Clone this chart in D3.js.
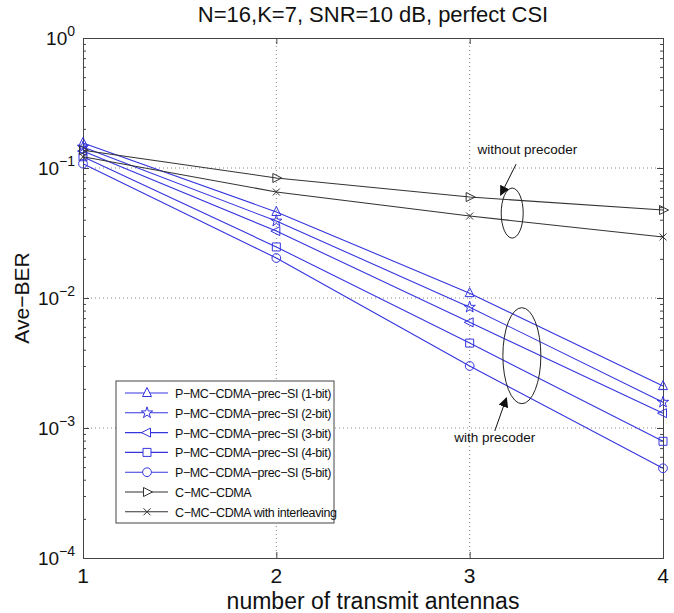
<!DOCTYPE html>
<html>
<head>
<meta charset="utf-8">
<script src="https://cdn.jsdelivr.net/npm/d3@7"></script>
<style>
  body { margin: 0; background: white; }
  text { font-family: "Liberation Sans", Arial, Helvetica, sans-serif; }
</style>
</head>
<body>
<div id="chart"></div>
<script>

// number of transmit antennas
var antennas = [1, 2, 3, 4];

// Ave-BER values
var ber_1bit = [0.156, 0.0459, 0.0109, 0.0021];
var ber_2bit = [0.145, 0.0391, 0.0085, 0.00158];
var ber_3bit = [0.135, 0.0327, 0.0065, 0.0013];
var ber_4bit = [0.122, 0.0247, 0.0045, 0.00079];
var ber_5bit = [0.108, 0.0203, 0.0030, 0.00049];
var ber_cmc = [0.137, 0.0838, 0.0598, 0.0475];
var ber_cmc_il = [0.122, 0.0654, 0.0427, 0.0295];

var series_names = [
  'P\u2212MC\u2212CDMA\u2212prec\u2212SI (1-bit)',
  'P\u2212MC\u2212CDMA\u2212prec\u2212SI (2-bit)',
  'P\u2212MC\u2212CDMA\u2212prec\u2212SI (3-bit)',
  'P\u2212MC\u2212CDMA\u2212prec\u2212SI (4-bit)',
  'P\u2212MC\u2212CDMA\u2212prec\u2212SI (5-bit)',
  'C\u2212MC\u2212CDMA',
  'C\u2212MC\u2212CDMA with interleaving'
];
var series_markers = ['triup', 'star', 'trileft', 'square', 'circle', 'triright', 'x'];
var y_tick_exps = [0, -1, -2, -3, -4];

var series = [ber_1bit, ber_2bit, ber_3bit, ber_4bit, ber_5bit, ber_cmc, ber_cmc_il].map(function(vals, i){
  return {name: series_names[i], marker: series_markers[i], values: vals,
          color: i < 5 ? '#3535e0' : '#333'};
});

var width = 674, height = 613;
var margin = {left: 83, right: 11, top: 38, bottom: 55};

var svg = d3.select('#chart')
  .append('svg')
  .attr('width', width)
  .attr('height', height);

var x = d3.scaleLinear().domain([1, 4]).range([margin.left, width - margin.right]);
var y = d3.scaleLog().domain([1e-4, 1]).range([height - margin.bottom, margin.top]);

var axis_color = '#444';

// grid (dotted, major ticks only)
var grid = svg.append('g').attr('class', 'grid');
grid.selectAll('line.gx')
  .data([2, 3])
  .enter()
  .append('line')
  .attr('x1', function(d){ return x(d); })
  .attr('x2', function(d){ return x(d); })
  .attr('y1', y(1))
  .attr('y2', y(1e-4))
  .style('stroke', '#888')
  .style('stroke-dasharray', '1,3');

grid.selectAll('line.gy')
  .data([-1, -2, -3])
  .enter()
  .append('line')
  .attr('x1', x(1))
  .attr('x2', x(4))
  .attr('y1', function(d){ return y(Math.pow(10, d)); })
  .attr('y2', function(d){ return y(Math.pow(10, d)); })
  .style('stroke', '#888')
  .style('stroke-dasharray', '1,3');

// axes - ticks pointing inward, box all round
var x_axis = d3.axisBottom(x).tickValues(antennas).tickSize(-6).tickFormat('');
var x_axis_top = d3.axisTop(x).tickValues(antennas).tickSize(-6).tickFormat('');

var minor_ticks = [];
y_tick_exps.slice(1).forEach(function(e){
  for (var m = 2; m <= 9; m++){ minor_ticks.push(m * Math.pow(10, e)); }
});
var major_ticks = y_tick_exps.map(function(e){ return Math.pow(10, e); });

function draw_axis(g){
  g.select('.domain').style('stroke', axis_color);
  g.selectAll('.tick line').style('stroke', axis_color);
}

svg.append('g')
  .attr('transform', 'translate(0,' + y(1e-4) + ')')
  .call(x_axis).call(draw_axis);
svg.append('g')
  .attr('transform', 'translate(0,' + y(1) + ')')
  .call(x_axis_top).call(draw_axis);

svg.append('g')
  .attr('transform', 'translate(' + x(1) + ',0)')
  .call(d3.axisLeft(y).tickValues(major_ticks).tickSize(-6).tickFormat('')).call(draw_axis);
svg.append('g')
  .attr('transform', 'translate(' + x(1) + ',0)')
  .call(d3.axisLeft(y).tickValues(minor_ticks).tickSize(-3).tickFormat('')).call(draw_axis);
svg.append('g')
  .attr('transform', 'translate(' + x(4) + ',0)')
  .call(d3.axisRight(y).tickValues(major_ticks).tickSize(-6).tickFormat('')).call(draw_axis);
svg.append('g')
  .attr('transform', 'translate(' + x(4) + ',0)')
  .call(d3.axisRight(y).tickValues(minor_ticks).tickSize(-3).tickFormat('')).call(draw_axis);

// tick labels
svg.selectAll('text.xtick')
  .data(antennas)
  .enter()
  .append('text')
  .attr('x', function(d){ return x(d); })
  .attr('y', y(1e-4) + 25)
  .style('font-size', '21px')
  .style('text-anchor', 'middle')
  .style('fill', '#111')
  .text(function(d){ return d; });

var ylab = svg.selectAll('text.ytick')
  .data(y_tick_exps)
  .enter()
  .append('text')
  .attr('x', x(1) - 8)
  .attr('y', function(d){ return y(Math.pow(10, d)) + 7; })
  .style('font-size', '19px')
  .style('text-anchor', 'end')
  .style('fill', '#111');
ylab.append('tspan').text('10');
ylab.append('tspan')
  .attr('dy', -9)
  .style('font-size', '14px')
  .text(function(d){ return d === 0 ? '0' : '\u2212' + (-d); });

// marker shapes
function marker_path(type){
  var s = 4.5;
  if (type === 'triup') return 'M0,' + (-s - 1) + 'L' + s + ',' + (s - 1) + 'L' + (-s) + ',' + (s - 1) + 'Z';
  if (type === 'trileft') return 'M' + (-s - 1) + ',0L' + (s - 1) + ',' + (-s) + 'L' + (s - 1) + ',' + s + 'Z';
  if (type === 'triright') return 'M' + (s + 1) + ',0L' + (1 - s) + ',' + (-s) + 'L' + (1 - s) + ',' + s + 'Z';
  if (type === 'square') return 'M-4,-4L4,-4L4,4L-4,4Z';
  if (type === 'circle') return d3.symbol().type(d3.symbolCircle).size(60)();
  if (type === 'star') return d3.symbol().type(d3.symbolStar).size(40)();
  if (type === 'x') return 'M-3.5,-3.5L3.5,3.5M-3.5,3.5L3.5,-3.5';
}

var line = d3.line()
  .x(function(d, i){ return x(antennas[i]); })
  .y(function(d){ return y(d); });

var plot = svg.append('g').attr('class', 'series');

series.forEach(function(s){
  plot.append('path')
    .datum(s.values)
    .attr('d', line)
    .style('fill', 'none')
    .style('stroke', s.color)
    .style('stroke-width', 1.1);

  plot.selectAll(null)
    .data(s.values)
    .enter()
    .append('path')
    .attr('transform', function(d, i){ return 'translate(' + x(antennas[i]) + ',' + y(d) + ')'; })
    .attr('d', marker_path(s.marker))
    .style('fill', 'none')
    .style('stroke', s.color)
    .style('stroke-width', 1);
});

// annotations: ellipses + arrows
var defs = svg.append('defs');
defs.append('marker')
  .attr('id', 'arrowhead')
  .attr('viewBox', '0 0 10 10')
  .attr('refX', 9)
  .attr('refY', 5)
  .attr('markerWidth', 10)
  .attr('markerHeight', 10)
  .attr('markerUnits', 'userSpaceOnUse')
  .attr('orient', 'auto')
  .append('path')
  .attr('d', 'M0,0L10,5L0,10Z')
  .style('fill', '#111');

svg.append('ellipse')
  .attr('cx', x(3.22)).attr('cy', y(0.045))
  .attr('rx', 11).attr('ry', 25)
  .style('fill', 'none').style('stroke', '#222');

svg.append('ellipse')
  .attr('cx', x(3.27)).attr('cy', y(0.0036))
  .attr('rx', 19).attr('ry', 48)
  .style('fill', 'none').style('stroke', '#222');

svg.append('line')
  .attr('x1', x(3.24)).attr('y1', y(0.107))
  .attr('x2', x(3.16)).attr('y2', y(0.062))
  .style('stroke', '#111')
  .attr('marker-end', 'url(#arrowhead)');

svg.append('line')
  .attr('x1', x(3.13)).attr('y1', y(0.00095))
  .attr('x2', x(3.19)).attr('y2', y(0.0017))
  .style('stroke', '#111')
  .attr('marker-end', 'url(#arrowhead)');

svg.append('text')
  .attr('x', x(3.04)).attr('y', y(0.128))
  .style('font-size', '13.5px')
  .style('fill', '#111')
  .text('without precoder');

svg.append('text')
  .attr('x', x(2.92)).attr('y', y(0.00078))
  .style('font-size', '13.5px')
  .style('fill', '#111')
  .text('with precoder');

// legend
var legend_x = 116, legend_y = 381, legend_w = 218, legend_h = 142, row_h = 19.8;
var legend = svg.append('g').attr('transform', 'translate(' + legend_x + ',' + legend_y + ')');

legend.append('rect')
  .attr('width', legend_w)
  .attr('height', legend_h)
  .style('fill', 'white')
  .style('stroke', '#444');

var leg_rows = legend.selectAll('g.row')
  .data(series)
  .enter()
  .append('g')
  .attr('transform', function(d, i){ return 'translate(0,' + (12 + i * row_h) + ')'; });

leg_rows.append('line')
  .attr('x1', 9).attr('x2', 52)
  .style('stroke', function(d){ return d.color; })
  .style('stroke-width', 1.1);

leg_rows.append('path')
  .attr('transform', 'translate(31,0)')
  .attr('d', function(d){ return marker_path(d.marker); })
  .style('fill', 'white')
  .style('stroke', function(d){ return d.color; });

leg_rows.append('text')
  .attr('x', 59)
  .attr('y', 5)
  .style('font-size', '12.5px')
  .style('letter-spacing', '-0.4px')
  .style('fill', '#111')
  .text(function(d){ return d.name; });

// titles
svg.append('text')
  .attr('x', (margin.left + width - margin.right) / 2)
  .attr('y', 22)
  .style('font-size', '22px')
  .style('text-anchor', 'middle')
  .style('fill', '#111')
  .text('N=16,K=7, SNR=10 dB, perfect CSI');

svg.append('text')
  .attr('x', (margin.left + width - margin.right) / 2)
  .attr('y', 609)
  .style('font-size', '23px')
  .style('text-anchor', 'middle')
  .style('fill', '#111')
  .text('number of transmit antennas');

svg.append('text')
  .attr('transform', 'translate(29,' + ((margin.top + height - margin.bottom) / 2) + ') rotate(-90)')
  .style('font-size', '21px')
  .style('text-anchor', 'middle')
  .style('fill', '#111')
  .text('Ave\u2212BER');

</script>
</body>
</html>
